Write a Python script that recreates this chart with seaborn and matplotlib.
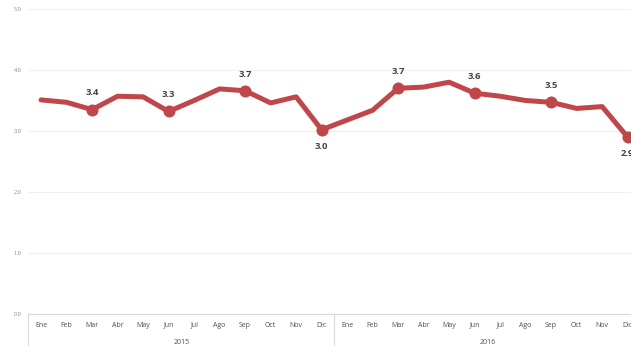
import numpy as np
import pandas as pd
import matplotlib
matplotlib.use("Agg")
import matplotlib.pyplot as plt
import matplotlib.transforms as mtransforms
import seaborn as sns

months = ["Ene", "Feb", "Mar", "Abr", "May", "Jun", "Jul", "Ago", "Sep", "Oct", "Nov", "Dic"]
years = ["2015", "2016"]
values_2015 = [3.51, 3.47, 3.35, 3.57, 3.56, 3.32, 3.50, 3.69, 3.66, 3.46, 3.56, 3.02]
values_2016 = [3.18, 3.34, 3.70, 3.72, 3.80, 3.62, 3.57, 3.50, 3.47, 3.37, 3.40, 2.90]
labeled_months = ["Mar", "Jun", "Sep", "Dic"]
label_below = ["Dic"]
y_ticks = [0.0, 1.0, 2.0, 3.0, 4.0, 5.0]

rows = []
for yr, vals in zip(years, [values_2015, values_2016]):
    for m, v in zip(months, vals):
        rows.append({"year": yr, "month": m, "value": v})
df = pd.DataFrame(rows)
df["x"] = np.arange(len(df))

sns.set_theme(style="white")
plt.rcParams["font.family"] = ["Open Sans", "DejaVu Sans"]

color = "#c0464a"
fig = plt.figure(figsize=(6.31, 3.46), dpi=100)
ax = fig.add_axes([0.0449, 0.0925, 0.97, 0.8815])

for yv in y_ticks:
    ax.axhline(yv, color="#f0f0f0", lw=0.8, zorder=0)

sns.lineplot(data=df, x="x", y="value", ax=ax, color=color, lw=3.6,
             solid_capstyle="round", solid_joinstyle="round", zorder=3)
mk = df[df["month"].isin(labeled_months)]
sns.scatterplot(data=mk, x="x", y="value", ax=ax, color=color, s=75,
                edgecolor=color, linewidth=0, zorder=4)
for _, r in mk.iterrows():
    below = r["month"] in label_below
    ax.annotate(f"{r['value']:.1f}", (r["x"], r["value"]),
                xytext=(0, -12 if below else 12), textcoords="offset points",
                ha="center", va="center", fontsize=6.8, fontweight="bold",
                color="#454545", zorder=5)

ax.set_xlim(-0.5, len(df) - 0.5)
ax.set_ylim(0, 5)
ax.set_yticks(y_ticks)
ax.set_yticklabels([f"{v:.1f}" for v in y_ticks], fontsize=4, color="#808080")
ax.set_xticks(df["x"])
ax.set_xticklabels(df["month"], fontsize=5, color="#505050")
ax.tick_params(axis="both", length=0)
ax.tick_params(axis="x", pad=5.5)
ax.tick_params(axis="y", pad=5)
ax.set_xlabel("")
ax.set_ylabel("")
for s in ["top", "right", "left"]:
    ax.spines[s].set_visible(False)
ax.spines["bottom"].set_color("#d9d9d9")
ax.spines["bottom"].set_linewidth(0.8)

trans = mtransforms.blended_transform_factory(ax.transData, ax.transAxes)
n = len(months)
for i, yr in enumerate(years):
    ax.text(i * n + (n - 1) / 2, -0.092, yr, transform=trans, ha="center",
            va="center", fontsize=5, color="#505050")
for i in range(len(years)):
    ax.plot([i * n - 0.5, i * n - 0.5], [0, -0.11], transform=trans,
            color="#d9d9d9", lw=0.8, clip_on=False)

fig.savefig("out.png", dpi=100)
